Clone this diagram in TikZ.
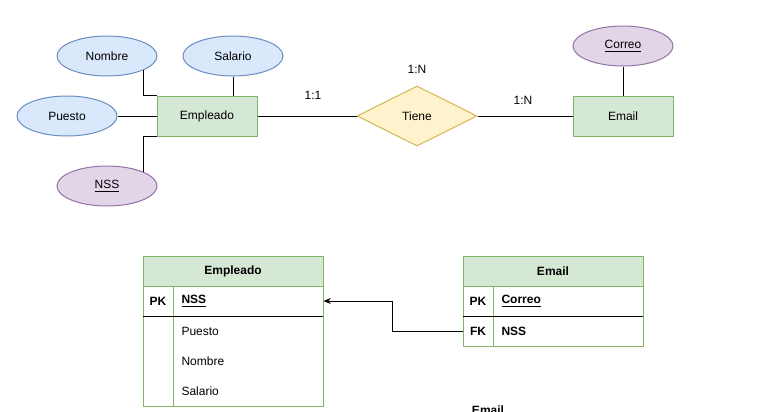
\documentclass[tikz,border=0pt]{standalone}
\usepackage{fontspec}
\setmainfont{Liberation Sans}
\usetikzlibrary{shapes.geometric,arrows.meta}
\definecolor{gfill}{HTML}{D5E8D4}
\definecolor{gline}{HTML}{82B366}
\definecolor{bfill}{HTML}{DAE8FC}
\definecolor{bline}{HTML}{6C8EBF}
\definecolor{pfill}{HTML}{E1D5E7}
\definecolor{pline}{HTML}{9673A6}
\definecolor{yfill}{HTML}{FFF2CC}
\definecolor{yline}{HTML}{D6B656}
\begin{document}
\begin{tikzpicture}[x=0.75pt,y=-0.75pt,
  font=\fontsize{9}{11}\selectfont, line width=0.75pt,
  attr/.style={ellipse, draw=bline, fill=bfill, minimum width=75pt, minimum height=30pt, inner sep=0pt},
  keyattr/.style={attr, draw=pline, fill=pfill},
  entity/.style={rectangle, draw=gline, fill=gfill, minimum width=75pt, minimum height=30pt, inner sep=0pt},
  rel/.style={diamond, draw=yline, fill=yfill, minimum width=90pt, minimum height=45pt, inner sep=0pt},
  lbl/.style={inner sep=0pt},
  thead/.style={rectangle, draw=gline, fill=gfill, minimum width=135pt, minimum height=22.5pt, inner sep=0pt, font=\fontsize{9}{11}\selectfont\bfseries},
  rowbox/.style={rectangle, minimum width=135pt, minimum height=22.5pt, inner sep=0pt},
  celltxt/.style={anchor=west, inner sep=0pt},
  keytxt/.style={inner sep=0pt, font=\fontsize{9}{11}\selectfont\bfseries},
  fk/.style={-{Stealth[length=5.5pt,width=4.5pt]}}
]
\useasboundingbox (0,0) rectangle (778,411);

% ER diagram
\node[attr] (nombre) at (107,56) {Nombre};
\node[attr] (salario) at (233,56) {Salario};
\node[attr] (puesto) at (67,116) {Puesto};
\node[keyattr] (nss) at (107,186) {\underline{NSS}};
\node[entity] (emp) at (207,116) {Empleado};
\node[rel] (tiene) at (417,116) {Tiene};
\node[entity] (email) at (623,116) {Email};
\node[keyattr] (correo) at (623,46) {\underline{Correo}};

\draw (emp.north west) -| (nombre.-21);
\draw (emp.south west) -| (nss.21);
\draw (salario.south) -- (salario.south |- emp.north);
\draw (puesto.east) -- (emp.west);
\draw (emp.east) -- (tiene.west);
\draw (tiene.east) -- (email.west);
\draw (correo.south) -- (email.north);

\node[lbl] (l11) at (313,95) {1:1};
\node[lbl] (l1n) at (417,69) {1:N};
\node[lbl] (l1nb) at (523,100) {1:N};

% Empleado table
\node[thead] (empH) at (233,271) {Empleado};
\node[rowbox] (empNSS) at (233,301) {};
\draw[gline] (143,256) rectangle (323,406);
\draw[gline] (173,286) -- (173,406);
\draw (143,316) -- (323,316);
\node[keytxt] (empPK) at (158,301) {PK};
\node[celltxt, font=\fontsize{9}{11}\selectfont\bfseries] (empNSSt) at (181,301) {\underline{NSS}};
\node[celltxt] (empPuesto) at (181,331) {Puesto};
\node[celltxt] (empNombre) at (181,361) {Nombre};
\node[celltxt] (empSalario) at (181,391) {Salario};

% Email table
\node[thead] (emH) at (553,271) {Email};
\node[rowbox] (emNSS) at (553,331) {};
\draw[gline] (463,256) rectangle (643,346);
\draw[gline] (493,286) -- (493,346);
\draw (463,316) -- (643,316);
\node[keytxt] (emPK) at (478,301) {PK};
\node[keytxt] (emFK) at (478,331) {FK};
\node[celltxt, font=\fontsize{9}{11}\selectfont\bfseries] (emCorreo) at (501,301) {\underline{Correo}};
\node[celltxt, font=\fontsize{9}{11}\selectfont\bfseries] (emNSSt) at (501,331) {NSS};

\draw[fk] (emNSS.west) -- ++(-70,0) |- (empNSS.east);

\node[inner sep=0pt, anchor=base, font=\fontsize{9}{11}\selectfont\bfseries] (emailcut) at (488,414) {Email};
\end{tikzpicture}
\end{document}
